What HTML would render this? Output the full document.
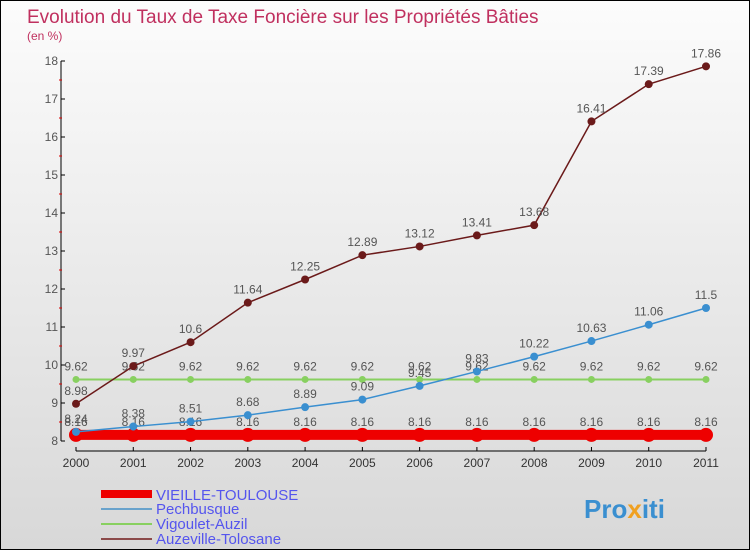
<!DOCTYPE html>
<html><head><meta charset="utf-8"><style>
body{margin:0}
#c{width:748px;height:548px;border:1px solid #000;background:linear-gradient(#fcfcfc,#d8d8d8);position:relative;overflow:hidden;font-family:"Liberation Sans",sans-serif}
</style></head><body>
<div id="c">
<svg id="s" width="748" height="548" xmlns="http://www.w3.org/2000/svg">
<text x="26" y="22" font-size="19" fill="#c0305f">Evolution du Taux de Taxe Foncière sur les Propriétés Bâties</text>
<text x="26" y="39" font-size="12" fill="#c0305f">(en %)</text>
<g id="ax"></g><g id="ser"></g>
<g>
<rect x="100" y="489" width="51" height="8" fill="#ee0000"/>
<text x="155" y="499" font-size="15" fill="#5555ee">VIEILLE-TOULOUSE</text>
<rect x="100" y="507" width="51" height="2" fill="#6aa3cc"/>
<text x="155" y="513" font-size="15" fill="#5555ee">Pechbusque</text>
<rect x="100" y="522" width="51" height="2" fill="#88d060"/>
<text x="155" y="528" font-size="15" fill="#5555ee">Vigoulet-Auzil</text>
<rect x="100" y="537" width="51" height="2" fill="#8b4a4a"/>
<text x="155" y="543" font-size="15" fill="#5555ee">Auzeville-Tolosane</text>
</g>
<text x="583" y="517" font-size="26" font-weight="bold" fill="#3a8fd0">Pro<tspan fill="#f0a020">x</tspan>iti</text>
</svg></div>
<script>
const years=[2000,2001,2002,2003,2004,2005,2006,2007,2008,2009,2010,2011];
const yTicks=[8,9,10,11,12,13,14,15,16,17,18];
const vieille=[8.16,8.16,8.16,8.16,8.16,8.16,8.16,8.16,8.16,8.16,8.16,8.16];
const pech=[8.24,8.38,8.51,8.68,8.89,9.09,9.45,9.83,10.22,10.63,11.06,11.5];
const vigoulet=[9.62,9.62,9.62,9.62,9.62,9.62,9.62,9.62,9.62,9.62,9.62,9.62];
const auzeville=[8.98,9.97,10.6,11.64,12.25,12.89,13.12,13.41,13.68,16.41,17.39,17.86];
const NS="http://www.w3.org/2000/svg";
const X=i=>75+i*(630/11), Y=v=>440-(v-8)*38;
function mk(t,a,p){const e=document.createElementNS(NS,t);for(const k in a)e.setAttribute(k,a[k]);p.appendChild(e);return e;}
const ax=document.getElementById('ax'),ser=document.getElementById('ser');
let l=mk('line',{x1:60,y1:Y(18),x2:60,y2:Y(8),stroke:'#000'},ax);


l=mk('line',{x1:X(0),y1:450,x2:X(11),y2:450,stroke:'#000'},ax);


yTicks.forEach((v,i)=>{
 mk('line',{x1:60,y1:Y(v),x2:64,y2:Y(v),stroke:'#000'},ax);
 if(i<yTicks.length-1) mk('line',{x1:58,y1:Y(v+0.5),x2:61,y2:Y(v+0.5),stroke:'#d00'},ax);
 const t=mk('text',{x:57,y:Y(v)+4,'font-size':12,fill:'#555','text-anchor':'end'},ax);t.textContent=v;
 
 
});
years.forEach((y,i)=>{
 mk('line',{x1:X(i),y1:446,x2:X(i),y2:450,stroke:'#000'},ax);
 const t=mk('text',{x:X(i),y:466,'font-size':12,fill:'#333','text-anchor':'middle'},ax);t.textContent=y;
 
 
});
function series(d,col,w,r,name){
 const g=mk('g',{},ser);
 
 
 mk('polyline',{points:d.map((v,i)=>X(i)+','+Y(v)).join(' '),fill:'none',stroke:col,'stroke-width':w},g);
 d.forEach((v,i)=>{
  const c=mk('circle',{cx:X(i),cy:Y(v),r:r,fill:col},g);
  
  
  const t=mk('text',{x:X(i),y:Y(v)-9,'font-size':12,fill:'#555','text-anchor':'middle'},g);t.textContent=v;
  
  
 });
}
series(vieille,'#ee0000',10,7,'vieille-toulouse');
series(vigoulet,'#88d060',2,3.5,'vigoulet');
series(pech,'#3a8fd0',1.5,4,'pechbusque');
series(auzeville,'#6b1a1a',1.5,4,'auzeville');
</script>
</body></html>
